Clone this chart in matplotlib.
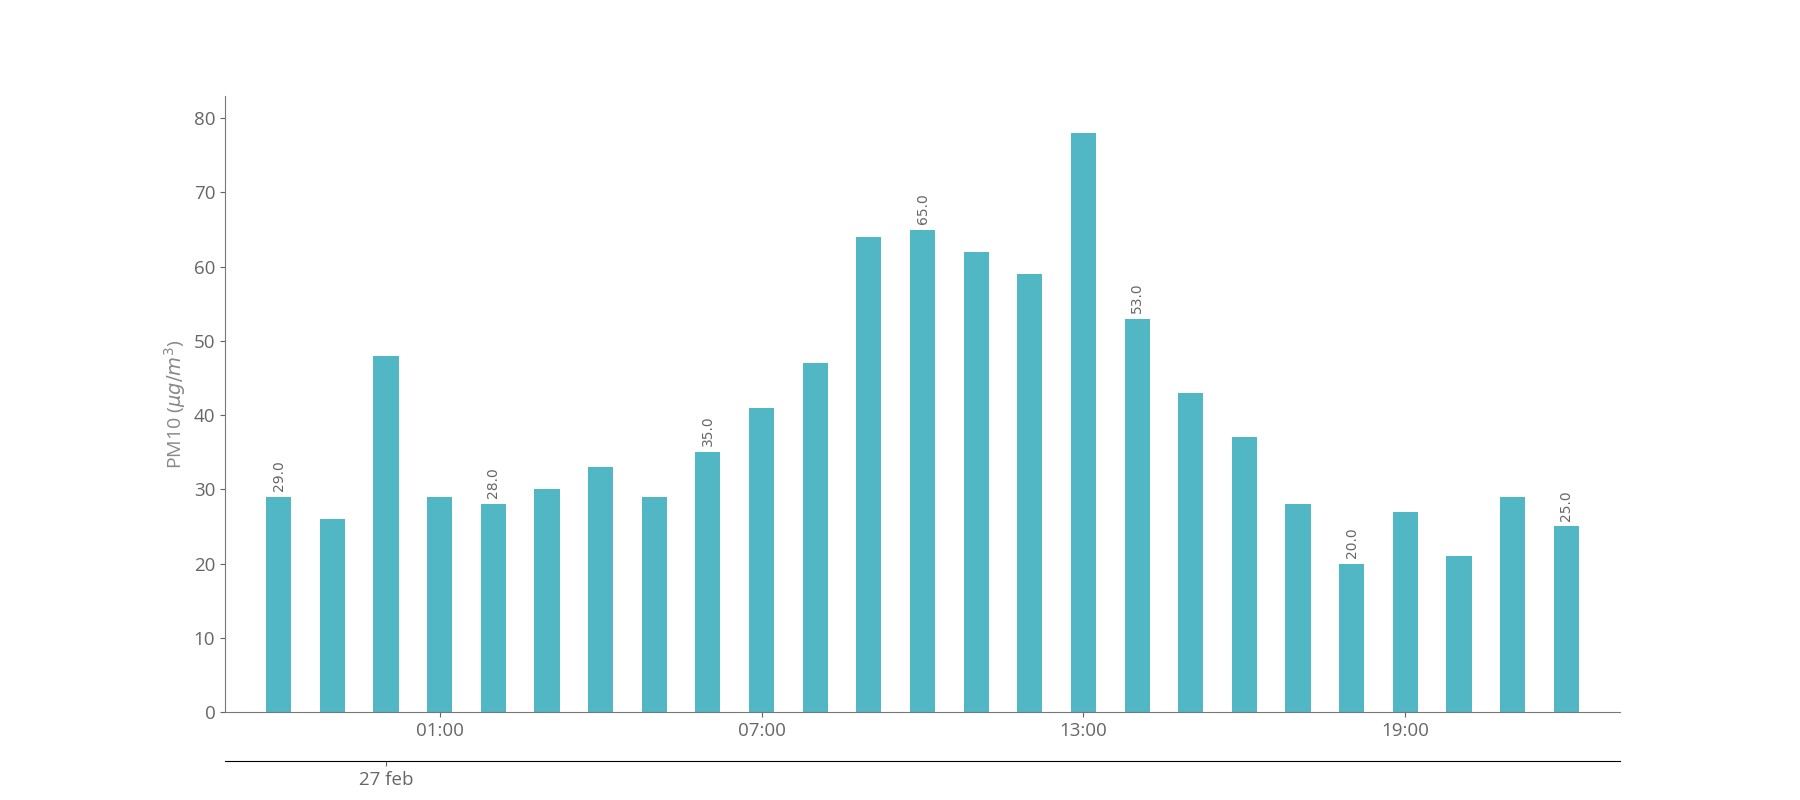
import matplotlib.pyplot as plt

hours = ['22:00', '23:00', '00:00', '01:00', '02:00', '03:00', '04:00', '05:00',
         '06:00', '07:00', '08:00', '09:00', '10:00', '11:00', '12:00', '13:00',
         '14:00', '15:00', '16:00', '17:00', '18:00', '19:00', '20:00', '21:00', '22:00']
pm10 = [29, 26, 48, 29, 28, 30, 33, 29, 35, 41, 47, 64, 65, 62, 59, 78,
        53, 43, 37, 28, 20, 27, 21, 29, 25]
shown_ticks = ['01:00', '07:00', '13:00', '19:00']
day_label = '27 feb'
day_start = '00:00'

plt.rcParams['font.family'] = ['Open Sans', 'DejaVu Sans']
grey = '#666666'

fig, ax = plt.subplots(figsize=(18, 8), dpi=100)
x = list(range(len(pm10)))
ax.bar(x, pm10, width=0.47, color='#52b7c4')

# label every 4th bar
for i in range(0, len(pm10), 4):
    ax.text(x[i], pm10[i] + 0.8, '%.1f' % pm10[i], rotation=90, ha='center', va='bottom',
            fontsize=10, color=grey, family='DejaVu Sans')

ax.set_xlim(-1, 25)
ax.set_ylim(0, 83)
ax.set_xticks([hours.index(h) for h in shown_ticks])
ax.set_xticklabels(shown_ticks)
ax.set_ylabel(r'PM10 ($\mu g/m^3$)', fontsize=14, color='#888888')
ax.tick_params(axis='both', colors=grey, labelsize=13.5)
for s in ['top', 'right']:
    ax.spines[s].set_visible(False)
for s in ['left', 'bottom']:
    ax.spines[s].set_color('#777777')

sec = ax.secondary_xaxis(-0.08)
sec.set_xticks([hours.index(day_start)])
sec.set_xticklabels([day_label])
sec.tick_params(axis='x', colors=grey, labelsize=13.5)
sec.spines['bottom'].set_color('black')

fig.savefig('out.png')
